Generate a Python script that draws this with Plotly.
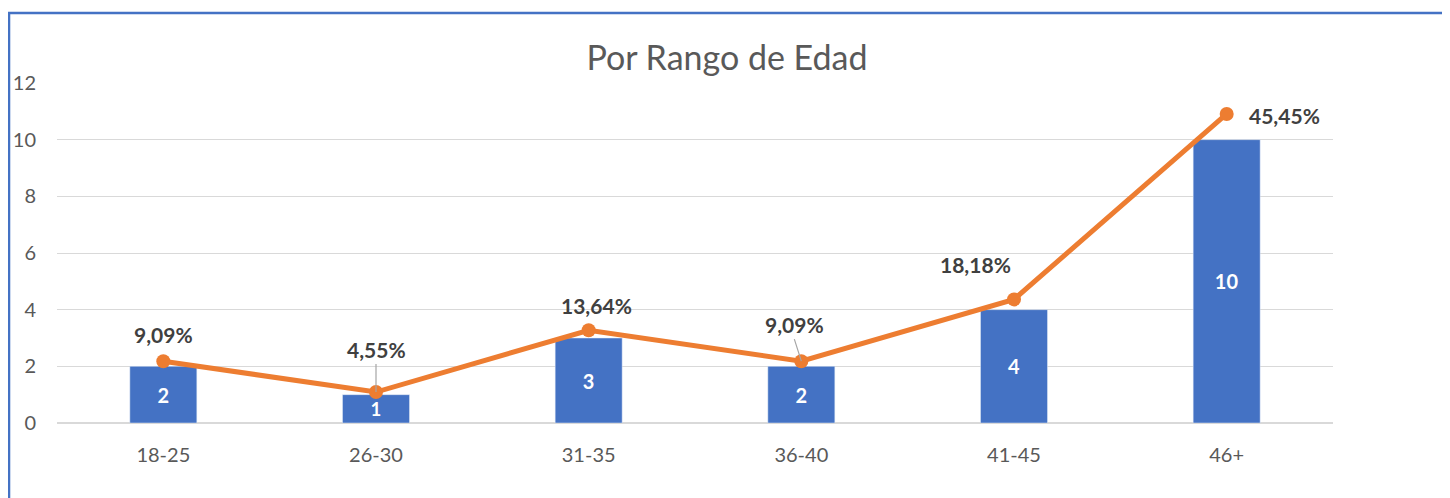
import plotly.graph_objects as go

categories = ["18-25", "26-30", "31-35", "36-40", "41-45", "46+"]
counts = [2, 1, 3, 2, 4, 10]
percents = [9.09, 4.55, 13.64, 9.09, 18.18, 45.45]
pct_labels = ["9,09%", "4,55%", "13,64%", "9,09%", "18,18%", "45,45%"]
y_ticks = [0, 2, 4, 6, 8, 10, 12]

BLUE = "#4472C4"
ORANGE = "#ED7D31"
GREY = "#595959"
FONT = "Lato"

fig = go.Figure()
fig.add_trace(go.Bar(
    x=categories, y=counts, marker_color=BLUE, width=0.315,
    text=[str(c) for c in counts], textposition="inside", insidetextanchor="middle",
    textfont=dict(color="white", size=20, family=FONT, weight="bold"),
    textangle=0, showlegend=False, hoverinfo="skip",
))
fig.add_trace(go.Scatter(
    x=categories, y=percents, yaxis="y2", mode="lines+markers",
    line=dict(color=ORANGE, width=5), marker=dict(color=ORANGE, size=14),
    showlegend=False, hoverinfo="skip",
))

# label offsets (pixels) for percentage annotations
offsets = [(0, -12, False), (0, -28, True), (8, -10, False), (-7, -22, True), (-39, -20, False), (58, 2, False)]
for cat, p, lab, (ax, ay, arrow) in zip(categories, percents, pct_labels, offsets):
    fig.add_annotation(
        x=cat, y=p, xref="x", yref="y2", text=lab,
        showarrow=True, arrowhead=0, arrowwidth=1.2,
        arrowcolor="#A6A6A6" if arrow else "rgba(0,0,0,0)",
        ax=ax, ay=ay, standoff=0, startstandoff=0,
        font=dict(size=21, color="#404040", family=FONT, weight="bold"),
        yanchor="bottom" if ax < 30 else "middle",
    )

fig.add_shape(type="rect", xref="paper", yref="paper",
              x0=-0.0376, x1=1.0885, y0=-0.3, y1=1.206,
              line=dict(color=BLUE, width=2.5), fillcolor="rgba(0,0,0,0)", layer="below")

fig.update_layout(
    width=1442, height=490,
    margin=dict(l=49, r=117, t=75, b=75, autoexpand=False),
    paper_bgcolor="white", plot_bgcolor="white",
    title=dict(text="Por Rango de Edad", x=0.4986, xref="container", xanchor="center",
               y=1 - 50 / 490, yref="container", yanchor="middle",
               font=dict(size=34, color=GREY, family=FONT)),
    xaxis=dict(tickfont=dict(size=20, color=GREY, family=FONT), showgrid=False,
               ticks="", ticklabelstandoff=18, showline=False, automargin=False),
    yaxis=dict(range=[0, 12], tickvals=y_ticks, tickfont=dict(size=20, color=GREY, family=FONT),
               showgrid=True, gridcolor="#D9D9D9", gridwidth=1, zeroline=True,
               zerolinecolor="#D9D9D9", zerolinewidth=2, ticklabelstandoff=20, showline=False,
               automargin=False),
    yaxis2=dict(range=[0, 50], overlaying="y", side="right", visible=False, showgrid=False),
)

fig.write_html("out.html")
